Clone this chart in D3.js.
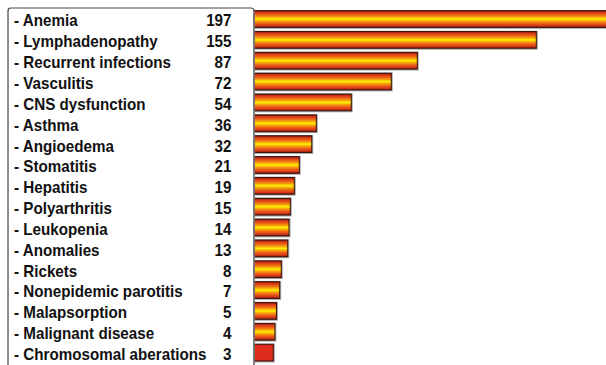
<!DOCTYPE html>
<html>
<head>
<meta charset="utf-8">
<script src="https://cdn.jsdelivr.net/npm/d3@7"></script>
<style>
  html, body { margin: 0; padding: 0; background: #fff; }
  svg { display: block; }
</style>
</head>
<body>
<div id="chart"></div>
<script>
const categories = [
  "Anemia", "Lymphadenopathy", "Recurrent infections", "Vasculitis",
  "CNS dysfunction", "Asthma", "Angioedema", "Stomatitis", "Hepatitis",
  "Polyarthritis", "Leukopenia", "Anomalies", "Rickets",
  "Nonepidemic parotitis", "Malapsorption", "Malignant disease",
  "Chromosomal aberations"
];
const values = [197, 155, 87, 72, 54, 36, 32, 21, 19, 15, 14, 13, 8, 7, 5, 4, 3];

// the original bars are not drawn to a single linear scale, small counts are stretched
const scaleBreaks = [0, 3, 8, 15, 19, 21, 36, 54, 72, 87, 155];
const scaleWidths = [0, 19, 27, 36, 40, 45, 62, 97, 137, 163, 282];

const W = 606, H = 365;
const axisX = 254.3;

const svg = d3.select("#chart")
  .append("svg")
  .attr("width", W)
  .attr("height", H);

const y = d3.scaleBand()
  .domain(categories)
  .range([8.6, 8.6 + 17 * 20.85])
  .paddingInner(0.2)
  .paddingOuter(0.1);

const x = d3.scaleLinear()
  .domain(scaleBreaks)
  .range(scaleWidths.map((w) => axisX + w));

// gradient for the bars
const defs = svg.append("defs");
const grad = defs.append("linearGradient")
  .attr("id", "barGrad")
  .attr("x1", 0).attr("y1", 0)
  .attr("x2", 0).attr("y2", 1);
[
  [0, "#7a1c0c"], [0.1, "#d8341a"], [0.25, "#ec6416"], [0.38, "#f7a40c"],
  [0.5, "#fff200"], [0.62, "#f7a40c"], [0.75, "#ec6416"], [0.9, "#d8341a"],
  [1, "#7a1c0c"]
].forEach(([o, c]) => grad.append("stop").attr("offset", o).attr("stop-color", c));

// legend box with rounded top corners, runs off the bottom
const bx0 = 8, bx1 = 254, by0 = 8, r = 3;
svg.append("path")
  .attr("d", `M${bx0},${H + 5} L${bx0},${by0 + r} Q${bx0},${by0} ${bx0 + r},${by0} L${bx1 - r},${by0} Q${bx1},${by0} ${bx1},${by0 + r} L${bx1},${H + 5}`)
  .attr("fill", "none")
  .attr("stroke", "#444")
  .attr("stroke-width", 1.2);

const rows = svg.append("g")
  .selectAll("g.row")
  .data(categories.map((c, i) => ({ name: c, value: values[i], i })))
  .join("g")
  .attr("class", "row");

// shadow
rows.append("rect")
  .attr("x", axisX - 0.5)
  .attr("y", (d) => y(d.name) - 0.8)
  .attr("width", (d) => x(d.value) - axisX + 2)
  .attr("height", y.bandwidth() + 2.3)
  .attr("fill", "#a8a8a8");

rows.append("rect")
  .attr("x", axisX)
  .attr("y", (d) => y(d.name))
  .attr("width", (d) => x(d.value) - axisX)
  .attr("height", y.bandwidth())
  .attr("fill", (d) => d.i === categories.length - 1 ? "#dc2c1c" : "url(#barGrad)")
  .attr("stroke", "#3a1208")
  .attr("stroke-width", 1);

// labels: slightly taller, narrower type than plain Arial
const baseY = (d) => y(d.name) + y.bandwidth() / 2 + 7.4;

rows.append("text")
  .attr("transform", (d) => `translate(14,${baseY(d)}) scale(0.95,1)`)
  .style("font-family", "'Liberation Sans', Arial, sans-serif")
  .style("font-weight", "700")
  .style("font-size", "16px")
  .attr("fill", "#111")
  .text((d) => "- " + d.name);

rows.append("text")
  .attr("transform", (d) => `translate(231.5,${baseY(d)}) scale(0.95,1)`)
  .attr("text-anchor", "end")
  .style("font-family", "'Liberation Sans', Arial, sans-serif")
  .style("font-weight", "700")
  .style("font-size", "16px")
  .attr("fill", "#111")
  .text((d) => d.value);

// axis line in front of the bar starts
svg.append("line")
  .attr("x1", axisX).attr("x2", axisX)
  .attr("y1", by0 + r).attr("y2", H + 5)
  .attr("stroke", "#777")
  .attr("stroke-width", 1.2);
</script>
</body>
</html>
